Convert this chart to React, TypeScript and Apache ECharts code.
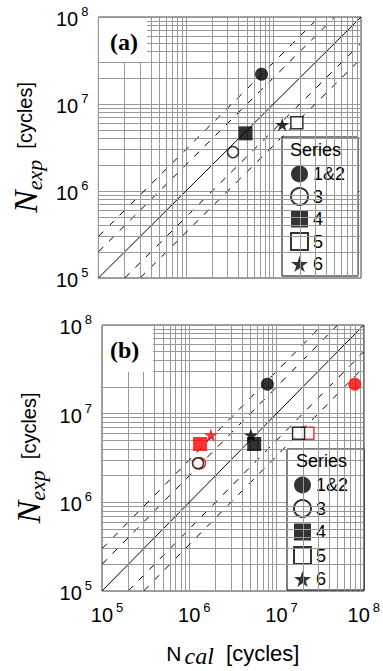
import React, { useEffect, useRef } from "react";
import * as echarts from "echarts";

// ---- axis range & grid structure ----
const AXIS_MIN = 1e5;
const AXIS_MAX = 1e8;
const DECADES = [1e5, 1e6, 1e7];
const MINOR_MULT = [2, 3, 4, 5, 6, 7, 8, 9];
const BAND_FACTORS = [2, 3];
const SERIES_NAMES = ["1&2", "3", "4", "5", "6"];

// ---- chart (a): [N_cal, N_exp] ----
const A_S12 = [[7.3e6, 2.2e7]];
const A_S3 = [[3.45e6, 2.8e6]];
const A_S4 = [[4.8e6, 4.6e6]];
const A_S5 = [[1.85e7, 6.1e6]];
const A_S6 = [[1.26e7, 5.8e6]];

// ---- chart (b), black ----
const B_S12 = [[7.85e6, 2.15e7]];
const B_S3 = [[1.26e6, 2.76e6]];
const B_S4 = [[5.55e6, 4.55e6]];
const B_S5 = [[1.79e7, 6.0e6]];
const B_S6 = [[5.08e6, 5.75e6]];

// ---- chart (b), red ----
const R_S12 = [[7.9e7, 2.15e7]];
const R_S3 = [[1.33e6, 2.76e6]];
const R_S4 = [[1.33e6, 4.55e6]];
const R_S5 = [[2.29e7, 6.0e6]];
const R_S6 = [[1.77e6, 5.75e6]];

const STAR =
  "path://M50,0L61.2,34.5L97.6,34.5L68.2,55.9L79.4,90.5L50,69.1L20.6,90.5L31.8,55.9L2.4,34.5L38.8,34.5Z";

const SANS = "Liberation Sans";
const SERIF = "Liberation Serif";
const GRID_COLOR = "#999999";

function gridSeries(idx: number) {
  const vals = DECADES.flatMap((d) => MINOR_MULT.map((m) => m * d));
  return {
    type: "line",
    xAxisIndex: idx,
    yAxisIndex: idx,
    data: [
      [AXIS_MIN, AXIS_MIN],
      [AXIS_MAX, AXIS_MAX],
    ],
    symbol: "none",
    lineStyle: { opacity: 0 },
    silent: true,
    z: 1,
    markLine: {
      silent: true,
      symbol: "none",
      animation: false,
      label: { show: false },
      lineStyle: { color: GRID_COLOR, type: "solid", width: 1 },
      emphasis: { disabled: true },
      data: [
        ...vals.map((v) => ({ xAxis: v })),
        ...vals.map((v) => ({ yAxis: v })),
      ],
    },
  };
}

function refLines(idx: number) {
  const out: any[] = [
    {
      type: "line",
      xAxisIndex: idx,
      yAxisIndex: idx,
      data: [
        [AXIS_MIN, AXIS_MIN],
        [AXIS_MAX, AXIS_MAX],
      ],
      symbol: "none",
      silent: true,
      lineStyle: { color: "#000", width: 1 },
      z: 3,
    },
  ];
  BAND_FACTORS.forEach((f) => {
    out.push({
      type: "line",
      xAxisIndex: idx,
      yAxisIndex: idx,
      data: [
        [AXIS_MIN, AXIS_MIN * f],
        [AXIS_MAX / f, AXIS_MAX],
      ],
      symbol: "none",
      silent: true,
      lineStyle: { color: "#000", width: 1, type: [7, 8] },
      z: 3,
    });
    out.push({
      type: "line",
      xAxisIndex: idx,
      yAxisIndex: idx,
      data: [
        [AXIS_MIN * f, AXIS_MIN],
        [AXIS_MAX, AXIS_MAX / f],
      ],
      symbol: "none",
      silent: true,
      lineStyle: { color: "#000", width: 1, type: [7, 8] },
      z: 3,
    });
  });
  return out;
}

function scatter(
  name: string,
  data: number[][],
  idx: number,
  symbol: string,
  size: number,
  color: string,
  filled: boolean,
  z: number
) {
  return {
    type: "scatter",
    name,
    xAxisIndex: idx,
    yAxisIndex: idx,
    data,
    symbol,
    symbolSize: size,
    symbolKeepAspect: true,
    itemStyle: filled
      ? { color, borderWidth: 0 }
      : { color: "#fff", borderColor: color, borderWidth: 1.5 },
    z,
    silent: true,
  };
}

function markerSet(
  prefix: string,
  idx: number,
  color: string,
  d: number[][][],
  z: number
) {
  return [
    scatter(prefix + SERIES_NAMES[0], d[0], idx, "circle", 13, color, true, z),
    scatter(prefix + SERIES_NAMES[1], d[1], idx, "circle", 11, color, false, z),
    scatter(prefix + SERIES_NAMES[2], d[2], idx, "rect", 14, color, true, z),
    scatter(prefix + SERIES_NAMES[3], d[3], idx, "rect", 12, color, false, z),
    scatter(prefix + SERIES_NAMES[4], d[4], idx, STAR, 14, color, true, z + 1),
  ];
}

const tickRich = {
  b: { fontSize: 20, fontFamily: SANS, color: "#000", lineHeight: 24, verticalAlign: "bottom", padding: [0, 0, 0, 10] },
  bl: { fontSize: 20, fontFamily: SANS, color: "#000", lineHeight: 24, verticalAlign: "bottom" },
  by: { fontSize: 20, fontFamily: SANS, color: "#000", lineHeight: 24, verticalAlign: "bottom" },
  s: { fontSize: 13, fontFamily: SANS, color: "#000", lineHeight: 13, verticalAlign: "top", padding: [0, 0, 0, 3] },
};

function expOf(v: number) {
  return Math.round(Math.log10(v));
}

function xAxisCfg(idx: number, labels: boolean) {
  return {
    type: "log",
    logBase: 10,
    gridIndex: idx,
    min: AXIS_MIN,
    max: AXIS_MAX,
    axisLine: { show: false },
    axisTick: { show: false },
    splitLine: { show: true, lineStyle: { color: GRID_COLOR, width: 1 } },
    axisLabel: {
      show: labels,
      margin: 10,
      showMinLabel: true,
      showMaxLabel: true,
      formatter: (v: number) => {
        const e = expOf(v);
        return e === 8 ? `{bl|10}{s|${e}}` : `{b|10}{s|${e}}`;
      },
      rich: tickRich,
    },
    name: labels ? "{n|N}{sub|cal}{c|  [cycles]}" : "",
    nameLocation: "middle",
    nameGap: 47,
    nameTextStyle: {
      rich: {
        n: { fontSize: 21, fontFamily: SANS, color: "#000", lineHeight: 30, verticalAlign: "middle" },
        sub: { fontSize: 24, fontFamily: SERIF, fontStyle: "italic", color: "#000", lineHeight: 22, verticalAlign: "bottom", padding: [0, 0, 0, 3] },
        c: { fontSize: 22, fontFamily: SANS, color: "#000", lineHeight: 30, verticalAlign: "middle" },
      },
    },
  };
}

function yAxisCfg(idx: number, gap: number) {
  return {
    type: "log",
    logBase: 10,
    gridIndex: idx,
    min: AXIS_MIN,
    max: AXIS_MAX,
    axisLine: { show: false },
    axisTick: { show: false },
    splitLine: { show: true, lineStyle: { color: GRID_COLOR, width: 1 } },
    axisLabel: {
      margin: 10,
      showMinLabel: true,
      showMaxLabel: true,
      formatter: (v: number) => `{by|10}{s|${expOf(v)}}`,
      rich: tickRich,
    },
    name: "{n|N}{sub|exp}{c|  [cycles]}",
    nameLocation: "middle",
    nameRotate: 90,
    nameGap: gap,
    nameTextStyle: {
      rich: {
        n: { fontSize: 34, fontFamily: SERIF, fontStyle: "italic", color: "#000", lineHeight: 40, verticalAlign: "middle" },
        sub: { fontSize: 22, fontFamily: SERIF, fontStyle: "italic", color: "#000", lineHeight: 24, verticalAlign: "bottom" },
        c: { fontSize: 20, fontFamily: SANS, color: "#000", lineHeight: 40, verticalAlign: "middle" },
      },
    },
  };
}

function legendCfg(left: number, top: number, padding: number[], gap: number) {
  return {
    orient: "vertical",
    left,
    top,
    data: SERIES_NAMES,
    padding,
    itemGap: gap,
    itemWidth: 17,
    itemHeight: 17,
    selectedMode: false,
    backgroundColor: "#fff",
    borderColor: "#000",
    borderWidth: 1,
    borderRadius: 0,
    textStyle: { fontSize: 18, fontFamily: SANS, color: "#000" },
  };
}

export default function App() {
  const ref = useRef<HTMLDivElement>(null);
  useEffect(() => {
    if (!ref.current) return;
    const chart = echarts.init(ref.current, undefined, { renderer: "svg" });
    const option: any = {
      animation: false,
      backgroundColor: "#fff",
      textStyle: { fontFamily: SANS },
      grid: [
        { left: 98, top: 17, width: 263, height: 261, show: true, borderColor: "#444", borderWidth: 1, backgroundColor: "transparent" },
        { left: 102, top: 325, width: 265, height: 266, show: true, borderColor: "#444", borderWidth: 1, backgroundColor: "transparent" },
      ],
      xAxis: [xAxisCfg(0, false), xAxisCfg(1, true)],
      yAxis: [yAxisCfg(0, 47), yAxisCfg(1, 52)],
      legend: [
        legendCfg(282, 137, [28, 13, 3, 8], 4),
        legendCfg(287, 449, [27, 16, 2, 6], 5),
      ],
      graphic: [
        { type: "rect", shape: { x: 99, y: 18, width: 48, height: 44 }, style: { fill: "#fff" }, z: 50, silent: true },
        { type: "text", x: 110, y: 42, style: { text: "(a)", font: `bold 24px "${SERIF}"`, fill: "#000", verticalAlign: "middle" }, z: 51, silent: true },
        { type: "rect", shape: { x: 103, y: 326, width: 50, height: 46 }, style: { fill: "#fff" }, z: 50, silent: true },
        { type: "text", x: 110, y: 350, style: { text: "(b)", font: `bold 24px "${SERIF}"`, fill: "#000", verticalAlign: "middle" }, z: 51, silent: true },
        { type: "text", x: 290, y: 150, style: { text: "Series", font: `18px "${SANS}"`, fill: "#000", verticalAlign: "middle" }, z: 100, silent: true },
        { type: "text", x: 296, y: 461, style: { text: "Series", font: `18px "${SANS}"`, fill: "#000", verticalAlign: "middle" }, z: 100, silent: true },
      ],
      series: [
        gridSeries(0),
        gridSeries(1),
        ...refLines(0),
        ...refLines(1),
        ...markerSet("", 0, "#000", [A_S12, A_S3, A_S4, A_S5, A_S6], 5),
        ...markerSet("red ", 1, "#ff0000", [R_S12, R_S3, R_S4, R_S5, R_S6], 5),
        ...markerSet("", 1, "#000", [B_S12, B_S3, B_S4, B_S5, B_S6], 7),
      ],
    };
    chart.setOption(option);
    return () => chart.dispose();
  }, []);
  return (
    <div
      ref={ref}
      style={{ position: "fixed", left: 0, top: 0, width: 383, height: 671 }}
    />
  );
}
